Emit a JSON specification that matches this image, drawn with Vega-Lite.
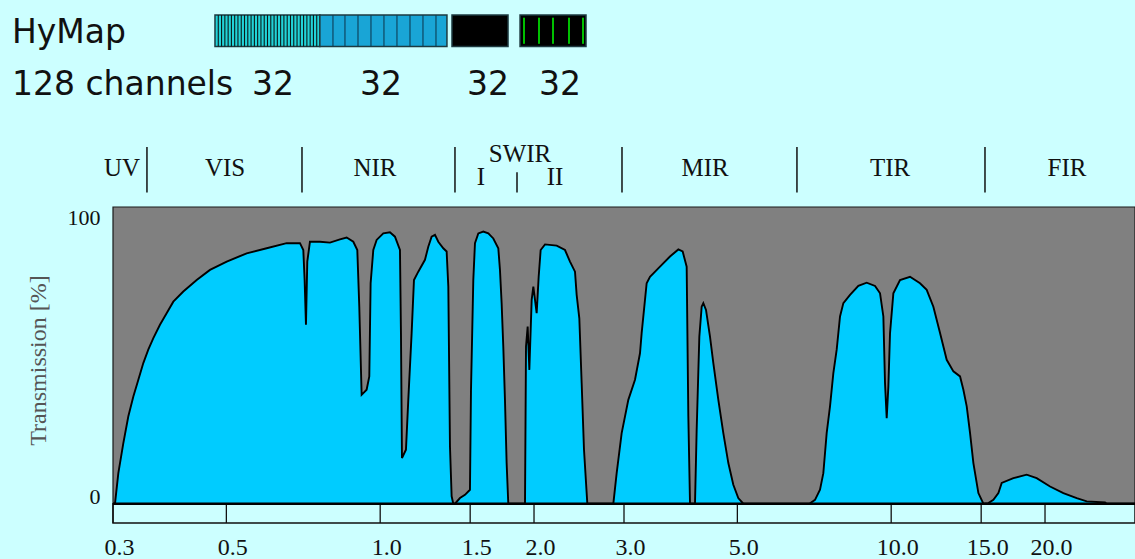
{
  "$schema": "https://vega.github.io/schema/vega-lite/v6.json",
  "width": 1022,
  "height": 316,
  "autosize": {"type": "none"},
  "padding": {"left": 113, "top": 207, "right": 0, "bottom": 36},
  "background": "#ccffff",
  "config": {"view": {"stroke": null, "fill": null}},
  "resolve": {"axis": {"x": "independent", "y": "independent"}},
  "datasets": {
    "curve": [
      {"wl":0.3,"t":0},{"wl":0.3027,"t":0},{"wl":0.3073,"t":10.3},{"wl":0.3143,"t":20.4},{"wl":0.3214,"t":29.4},{"wl":0.3288,"t":36.1},{"wl":0.3363,"t":41.8},{"wl":0.3439,"t":47.4},{"wl":0.3517,"t":51.9},{"wl":0.3598,"t":55.8},{"wl":0.3707,"t":60.3},{"wl":0.382,"t":64.2},{"wl":0.3937,"t":68.1},{"wl":0.4118,"t":71.5},{"wl":0.4374,"t":75.4},{"wl":0.4644,"t":78.8},{"wl":0.5008,"t":81.6},{"wl":0.5479,"t":84.4},{"wl":0.5996,"t":86.1},{"wl":0.6561,"t":87.8},{"wl":0.6967,"t":87.8},{"wl":0.7072,"t":85.5},{"wl":0.7114,"t":75.4},{"wl":0.7157,"t":60.3},{"wl":0.72,"t":81.6},{"wl":0.7287,"t":88.3},{"wl":0.7623,"t":88.3},{"wl":0.7975,"t":88.0},{"wl":0.8342,"t":89.1},{"wl":0.8597,"t":89.7},{"wl":0.8859,"t":88.3},{"wl":0.902,"t":85.5},{"wl":0.9101,"t":66.4},{"wl":0.9198,"t":36.7},{"wl":0.9407,"t":38.4},{"wl":0.9521,"t":42.9},{"wl":0.9578,"t":74.3},{"wl":0.9694,"t":85.5},{"wl":0.9841,"t":88.9},{"wl":1.0141,"t":91.1},{"wl":1.045,"t":91.5},{"wl":1.0688,"t":90.0},{"wl":1.0932,"t":85.5},{"wl":1.0981,"t":57.5},{"wl":1.1031,"t":15.4},{"wl":1.1231,"t":18.2},{"wl":1.135,"t":35.0},{"wl":1.1522,"t":57.5},{"wl":1.1644,"t":75.4},{"wl":1.1873,"t":78.2},{"wl":1.2235,"t":82.2},{"wl":1.242,"t":86.6},{"wl":1.2608,"t":90.0},{"wl":1.28,"t":90.6},{"wl":1.2993,"t":88.3},{"wl":1.3289,"t":86.1},{"wl":1.3491,"t":85.0},{"wl":1.3593,"t":73.2},{"wl":1.3695,"t":19.3},{"wl":1.3798,"t":2.5},{"wl":1.3902,"t":0},{"wl":1.4007,"t":0},{"wl":1.4326,"t":1.9},{"wl":1.4653,"t":3.0},{"wl":1.4986,"t":4.7},{"wl":1.5054,"t":37.8},{"wl":1.5213,"t":75.4},{"wl":1.5328,"t":87.8},{"wl":1.556,"t":91.1},{"wl":1.5914,"t":91.7},{"wl":1.6277,"t":91.1},{"wl":1.6648,"t":89.4},{"wl":1.7027,"t":86.1},{"wl":1.7155,"t":78.8},{"wl":1.7284,"t":67.6},{"wl":1.7414,"t":53.0},{"wl":1.7546,"t":35.0},{"wl":1.7678,"t":13.7},{"wl":1.7811,"t":0},{"wl":1.9204,"t":0},{"wl":1.9291,"t":53.0},{"wl":1.9436,"t":59.7},{"wl":1.9583,"t":45.1},{"wl":1.979,"t":68.7},{"wl":1.9939,"t":73.2},{"wl":2.024,"t":64.2},{"wl":2.0424,"t":76.5},{"wl":2.0608,"t":85.5},{"wl":2.1015,"t":87.4},{"wl":2.215,"t":87.0},{"wl":2.2996,"t":85.5},{"wl":2.352,"t":81.6},{"wl":2.4056,"t":78.2},{"wl":2.4237,"t":70.4},{"wl":2.453,"t":62.5},{"wl":2.479,"t":40.6},{"wl":2.5052,"t":18.2},{"wl":2.5431,"t":0},{"wl":2.8591,"t":0},{"wl":2.9025,"t":10.3},{"wl":2.9686,"t":23.8},{"wl":3.059,"t":35.0},{"wl":3.1524,"t":41.8},{"wl":3.2241,"t":50.7},{"wl":3.2484,"t":57.5},{"wl":3.2827,"t":65.3},{"wl":3.3224,"t":74.3},{"wl":3.3727,"t":76.5},{"wl":3.5283,"t":79.9},{"wl":3.6908,"t":83.3},{"wl":3.8322,"t":85.7},{"wl":3.9078,"t":85.0},{"wl":3.9789,"t":79.9},{"wl":4.0089,"t":29.4},{"wl":4.0392,"t":0},{"wl":4.131,"t":0},{"wl":4.1622,"t":24.9},{"wl":4.2126,"t":56.3},{"wl":4.2573,"t":66.4},{"wl":4.2891,"t":67.6},{"wl":4.341,"t":65.3},{"wl":4.4199,"t":56.3},{"wl":4.4868,"t":47.4},{"wl":4.5891,"t":35.0},{"wl":4.6935,"t":23.8},{"wl":4.8006,"t":13.7},{"wl":4.9098,"t":6.4},{"wl":5.0209,"t":1.9},{"wl":5.1363,"t":0},{"wl":6.9159,"t":0},{"wl":7.0944,"t":1.3},{"wl":7.256,"t":4.7},{"wl":7.3656,"t":10.3},{"wl":7.4773,"t":23.8},{"wl":7.5905,"t":32.8},{"wl":7.7055,"t":44.0},{"wl":7.8223,"t":51.9},{"wl":7.9408,"t":63.1},{"wl":8.0611,"t":67.6},{"wl":8.3071,"t":70.4},{"wl":8.6249,"t":73.4},{"wl":8.9553,"t":74.5},{"wl":9.2981,"t":73.4},{"wl":9.5099,"t":70.9},{"wl":9.6533,"t":63.1},{"wl":9.7259,"t":40.6},{"wl":9.7994,"t":28.8},{"wl":9.8734,"t":39.5},{"wl":9.9477,"t":57.5},{"wl":10.098,"t":70.9},{"wl":10.406,"t":75.4},{"wl":10.886,"t":76.5},{"wl":11.387,"t":74.3},{"wl":11.735,"t":72.1},{"wl":12.093,"t":66.4},{"wl":12.462,"t":57.5},{"wl":12.842,"t":48.5},{"wl":13.234,"t":44.6},{"wl":13.638,"t":42.9},{"wl":13.844,"t":38.4},{"wl":14.054,"t":32.8},{"wl":14.267,"t":23.8},{"wl":14.483,"t":13.7},{"wl":14.813,"t":3.6},{"wl":15.15,"t":0},{"wl":15.495,"t":0.2},{"wl":15.848,"t":1.3},{"wl":16.209,"t":3.6},{"wl":16.454,"t":7.0},{"wl":17.342,"t":8.6},{"wl":18.413,"t":9.8},{"wl":19.262,"t":8.6},{"wl":20.459,"t":5.8},{"wl":21.724,"t":3.6},{"wl":23.071,"t":1.9},{"wl":24.135,"t":0.8},{"wl":26.215,"t":0.4},{"wl":26.413,"t":0},{"wl":30,"t":0}
    ],
    "ticks": [{"wl":0.3},{"wl":0.5},{"wl":1.0},{"wl":1.5},{"wl":2.0},{"wl":3.0},{"wl":5.0},{"wl":10.0},{"wl":15.0},{"wl":20.0}],
    "regions": [
      {"band":"UV","wl":0.3124,"level":"region"},
      {"band":"VIS","wl":0.497,"level":"region"},
      {"band":"NIR","wl":0.9769,"level":"region"},
      {"band":"SWIR","wl":1.878,"level":"group"},
      {"band":"I","wl":1.5749,"level":"sub"},
      {"band":"II","wl":2.1985,"level":"sub"},
      {"band":"MIR","wl":4.3218,"level":"region"},
      {"band":"TIR","wl":9.948,"level":"region"},
      {"band":"FIR","wl":22.08,"level":"region"}
    ],
    "limits": [
      {"wl":0.3496,"kind":"major"},
      {"wl":0.703,"kind":"major"},
      {"wl":1.4007,"kind":"major"},
      {"wl":1.8524,"kind":"minor"},
      {"wl":2.973,"kind":"major"},
      {"wl":6.54,"kind":"major"},
      {"wl":15.26,"kind":"major"}
    ],
    "modules": [
      {"module":"VIS","start":0.475,"end":0.762,"channels":32,"labelWl":0.6169},
      {"module":"NIR","start":0.762,"end":1.351,"channels":32,"labelWl":1.0035},
      {"module":"SWIR1","start":1.382,"end":1.779,"channels":32,"labelWl":1.6253},
      {"module":"SWIR2","start":1.878,"end":2.528,"channels":32,"labelWl":2.2485}
    ],
    "channelLines": [
      {"module":"VIS","wl":0.4821},{"module":"VIS","wl":0.4893},{"module":"VIS","wl":0.4966},{"module":"VIS","wl":0.504},{"module":"VIS","wl":0.5115},{"module":"VIS","wl":0.5191},{"module":"VIS","wl":0.5268},{"module":"VIS","wl":0.5347},{"module":"VIS","wl":0.5426},{"module":"VIS","wl":0.5507},{"module":"VIS","wl":0.5589},{"module":"VIS","wl":0.5673},{"module":"VIS","wl":0.5757},{"module":"VIS","wl":0.5843},{"module":"VIS","wl":0.593},{"module":"VIS","wl":0.6018},{"module":"VIS","wl":0.6108},{"module":"VIS","wl":0.6199},{"module":"VIS","wl":0.6291},{"module":"VIS","wl":0.6385},{"module":"VIS","wl":0.648},{"module":"VIS","wl":0.6577},{"module":"VIS","wl":0.6675},{"module":"VIS","wl":0.6774},{"module":"VIS","wl":0.6875},{"module":"VIS","wl":0.6977},{"module":"VIS","wl":0.7081},{"module":"VIS","wl":0.7187},{"module":"VIS","wl":0.7294},{"module":"VIS","wl":0.7402},{"module":"VIS","wl":0.7513},
      {"module":"NIR","wl":0.8083},{"module":"NIR","wl":0.8532},{"module":"NIR","wl":0.9048},{"module":"NIR","wl":0.9593},{"module":"NIR","wl":1.0171},{"module":"NIR","wl":1.0785},{"module":"NIR","wl":1.1437},{"module":"NIR","wl":1.2126},{"module":"NIR","wl":1.2858},
      {"module":"SWIR2","wl":1.9118},{"module":"SWIR2","wl":2.0454},{"module":"SWIR2","wl":2.1787},{"module":"SWIR2","wl":2.3414},{"module":"SWIR2","wl":2.4939}
    ]
  },
  "layer": [
    {
      "data": {"values": [{}]},
      "mark": {"type": "rect", "fill": "#808080", "stroke": "#1a1a1a", "strokeWidth": 1.2},
      "encoding": {
        "x": {"datum": 0.3, "type": "quantitative", "scale": {"type": "log", "domain": [0.3, 30], "nice": false}, "axis": null},
        "x2": {"datum": 30},
        "y": {"datum": 0, "type": "quantitative", "scale": {"domain": [-6.5, 100], "nice": false, "zero": false}, "axis": null},
        "y2": {"datum": 100}
      }
    },
    {
      "data": {"values": [{}]},
      "mark": {"type": "rect", "fill": "#ccffff", "stroke": "#111111", "strokeWidth": 1.5},
      "encoding": {
        "x": {"datum": 0.3, "type": "quantitative", "scale": {"type": "log", "domain": [0.3, 30], "nice": false}, "axis": null},
        "x2": {"datum": 30},
        "y": {"datum": -6.5, "type": "quantitative", "scale": {"domain": [-6.5, 100], "nice": false, "zero": false}, "axis": null},
        "y2": {"datum": 0}
      }
    },
    {
      "data": {"name": "ticks"},
      "mark": {"type": "rule", "color": "#111111", "strokeWidth": 1.3},
      "encoding": {
        "x": {"field": "wl", "type": "quantitative", "scale": {"type": "log", "domain": [0.3, 30], "nice": false}, "axis": null},
        "y": {"datum": -6.5, "type": "quantitative", "scale": {"domain": [-6.5, 100], "nice": false, "zero": false}, "axis": null},
        "y2": {"datum": 0}
      }
    },
    {
      "data": {"name": "curve"},
      "mark": {"type": "area", "color": "#00ccff", "opacity": 1, "line": {"color": "#000000", "strokeWidth": 1.9}},
      "encoding": {
        "x": {"field": "wl", "type": "quantitative",
              "scale": {"type": "log", "domain": [0.3, 30], "nice": false},
              "axis": {"values": [0.3, 0.5, 1, 1.5, 2, 3, 5, 10, 15, 20], "format": ".1f", "title": null,
                       "labelFont": "Liberation Serif", "labelFontSize": 24, "labelColor": "#111111",
                       "labelBaseline": "alphabetic", "labelPadding": 31, "labelOffset": 6, "labelFlush": false,
                       "labelOverlap": false, "ticks": false, "tickSize": 0, "domain": false, "grid": false}},
        "y": {"field": "t", "type": "quantitative",
              "scale": {"domain": [-6.5, 100], "nice": false, "zero": false},
              "axis": {"values": [0, 100], "format": "d", "title": "Transmission [%]",
                       "labelFont": "Liberation Serif", "labelFontSize": 22, "labelColor": "#111111",
                       "labelPadding": 13, "labelBaseline": {"condition": {"test": "datum.value == 100", "value": "top"}, "value": "alphabetic"},
                       "ticks": false, "tickSize": 0, "domain": false, "grid": false,
                       "titleFont": "Liberation Serif", "titleFontSize": 24, "titleFontWeight": "normal", "titleColor": "#555555",
                       "titleAngle": 270, "titleX": -75, "titleY": 153, "titleBaseline": "middle", "titleAlign": "center"}},
        "y2": {"datum": 0}
      }
    },
    {
      "data": {"values": [{}]},
      "mark": {"type": "rule", "color": "#000000", "strokeWidth": 2.5},
      "encoding": {
        "x": {"datum": 0.3, "type": "quantitative", "scale": {"type": "log", "domain": [0.3, 30], "nice": false}, "axis": null},
        "x2": {"datum": 30},
        "y": {"datum": 0, "type": "quantitative", "scale": {"domain": [-6.5, 100], "nice": false, "zero": false}, "axis": null}
      }
    },
    {
      "data": {"name": "regions"},
      "transform": [{"filter": "datum.level == 'region'"}],
      "mark": {"type": "text", "font": "Liberation Serif", "fontSize": 25, "color": "#111111", "align": "center", "baseline": "alphabetic"},
      "encoding": {
        "x": {"field": "wl", "type": "quantitative", "scale": {"type": "log", "domain": [0.3, 30], "nice": false}, "axis": null},
        "y": {"datum": 110.4, "type": "quantitative", "scale": {"domain": [-6.5, 100], "nice": false, "zero": false}, "axis": null},
        "text": {"field": "band"}
      }
    },
    {
      "data": {"name": "regions"},
      "transform": [{"filter": "datum.level == 'group'"}],
      "mark": {"type": "text", "font": "Liberation Serif", "fontSize": 25, "color": "#111111", "align": "center", "baseline": "alphabetic"},
      "encoding": {
        "x": {"field": "wl", "type": "quantitative", "scale": {"type": "log", "domain": [0.3, 30], "nice": false}, "axis": null},
        "y": {"datum": 115.2, "type": "quantitative", "scale": {"domain": [-6.5, 100], "nice": false, "zero": false}, "axis": null},
        "text": {"field": "band"}
      }
    },
    {
      "data": {"name": "regions"},
      "transform": [{"filter": "datum.level == 'sub'"}],
      "mark": {"type": "text", "font": "Liberation Serif", "fontSize": 25, "color": "#111111", "align": "center", "baseline": "alphabetic"},
      "encoding": {
        "x": {"field": "wl", "type": "quantitative", "scale": {"type": "log", "domain": [0.3, 30], "nice": false}, "axis": null},
        "y": {"datum": 107.4, "type": "quantitative", "scale": {"domain": [-6.5, 100], "nice": false, "zero": false}, "axis": null},
        "text": {"field": "band"}
      }
    },
    {
      "data": {"name": "limits"},
      "transform": [{"filter": "datum.kind == 'major'"}],
      "mark": {"type": "rule", "color": "#111111", "strokeWidth": 1.5},
      "encoding": {
        "x": {"field": "wl", "type": "quantitative", "scale": {"type": "log", "domain": [0.3, 30], "nice": false}, "axis": null},
        "y": {"datum": 120.2, "type": "quantitative", "scale": {"domain": [-6.5, 100], "nice": false, "zero": false}, "axis": null},
        "y2": {"datum": 104.9}
      }
    },
    {
      "data": {"name": "limits"},
      "transform": [{"filter": "datum.kind == 'minor'"}],
      "mark": {"type": "rule", "color": "#111111", "strokeWidth": 1.5},
      "encoding": {
        "x": {"field": "wl", "type": "quantitative", "scale": {"type": "log", "domain": [0.3, 30], "nice": false}, "axis": null},
        "y": {"datum": 111.7, "type": "quantitative", "scale": {"domain": [-6.5, 100], "nice": false, "zero": false}, "axis": null},
        "y2": {"datum": 104.9}
      }
    },
    {
      "data": {"name": "modules"},
      "mark": {"type": "rect", "stroke": "#1d3a40", "strokeWidth": 1.5},
      "encoding": {
        "x": {"field": "start", "type": "quantitative", "scale": {"type": "log", "domain": [0.3, 30], "nice": false}, "axis": null},
        "x2": {"field": "end"},
        "y": {"datum": 154.1, "type": "quantitative", "scale": {"domain": [-6.5, 100], "nice": false, "zero": false}, "axis": null},
        "y2": {"datum": 164.7},
        "fill": {"field": "module", "type": "nominal", "legend": null,
                 "scale": {"domain": ["VIS", "NIR", "SWIR1", "SWIR2"], "range": ["#22d3d8", "#19a5d6", "#000000", "#000000"]}}
      }
    },
    {
      "data": {"name": "channelLines"},
      "transform": [{"filter": "datum.module == 'VIS'"}],
      "mark": {"type": "rule", "color": "#0a1a1a", "strokeWidth": 1.1},
      "encoding": {
        "x": {"field": "wl", "type": "quantitative", "scale": {"type": "log", "domain": [0.3, 30], "nice": false}, "axis": null},
        "y": {"datum": 154.1, "type": "quantitative", "scale": {"domain": [-6.5, 100], "nice": false, "zero": false}, "axis": null},
        "y2": {"datum": 164.7}
      }
    },
    {
      "data": {"name": "channelLines"},
      "transform": [{"filter": "datum.module == 'NIR'"}],
      "mark": {"type": "rule", "color": "#0c3d55", "strokeWidth": 1.1},
      "encoding": {
        "x": {"field": "wl", "type": "quantitative", "scale": {"type": "log", "domain": [0.3, 30], "nice": false}, "axis": null},
        "y": {"datum": 154.1, "type": "quantitative", "scale": {"domain": [-6.5, 100], "nice": false, "zero": false}, "axis": null},
        "y2": {"datum": 164.7}
      }
    },
    {
      "data": {"name": "channelLines"},
      "transform": [{"filter": "datum.module == 'SWIR2'"}],
      "mark": {"type": "rule", "color": "#00c000", "strokeWidth": 2},
      "encoding": {
        "x": {"field": "wl", "type": "quantitative", "scale": {"type": "log", "domain": [0.3, 30], "nice": false}, "axis": null},
        "y": {"datum": 155, "type": "quantitative", "scale": {"domain": [-6.5, 100], "nice": false, "zero": false}, "axis": null},
        "y2": {"datum": 163.8}
      }
    },
    {
      "data": {"name": "modules"},
      "mark": {"type": "text", "font": "DejaVu Sans", "fontSize": 33, "color": "#111111", "align": "center", "baseline": "alphabetic"},
      "encoding": {
        "x": {"field": "labelWl", "type": "quantitative", "scale": {"type": "log", "domain": [0.3, 30], "nice": false}, "axis": null},
        "y": {"datum": 137.7, "type": "quantitative", "scale": {"domain": [-6.5, 100], "nice": false, "zero": false}, "axis": null},
        "text": {"field": "channels"}
      }
    },
    {
      "data": {"values": [{"label": "HyMap"}]},
      "mark": {"type": "text", "font": "DejaVu Sans", "fontSize": 33, "color": "#111111", "align": "left", "baseline": "alphabetic"},
      "encoding": {
        "x": {"datum": 0.1903, "type": "quantitative", "scale": {"type": "log", "domain": [0.3, 30], "nice": false}, "axis": null},
        "y": {"datum": 155.3, "type": "quantitative", "scale": {"domain": [-6.5, 100], "nice": false, "zero": false}, "axis": null},
        "text": {"field": "label"}
      }
    },
    {
      "data": {"values": [{"label": "128 channels"}]},
      "mark": {"type": "text", "font": "DejaVu Sans", "fontSize": 33, "color": "#111111", "align": "left", "baseline": "alphabetic"},
      "encoding": {
        "x": {"datum": 0.1903, "type": "quantitative", "scale": {"type": "log", "domain": [0.3, 30], "nice": false}, "axis": null},
        "y": {"datum": 137.7, "type": "quantitative", "scale": {"domain": [-6.5, 100], "nice": false, "zero": false}, "axis": null},
        "text": {"field": "label"}
      }
    }
  ]
}
